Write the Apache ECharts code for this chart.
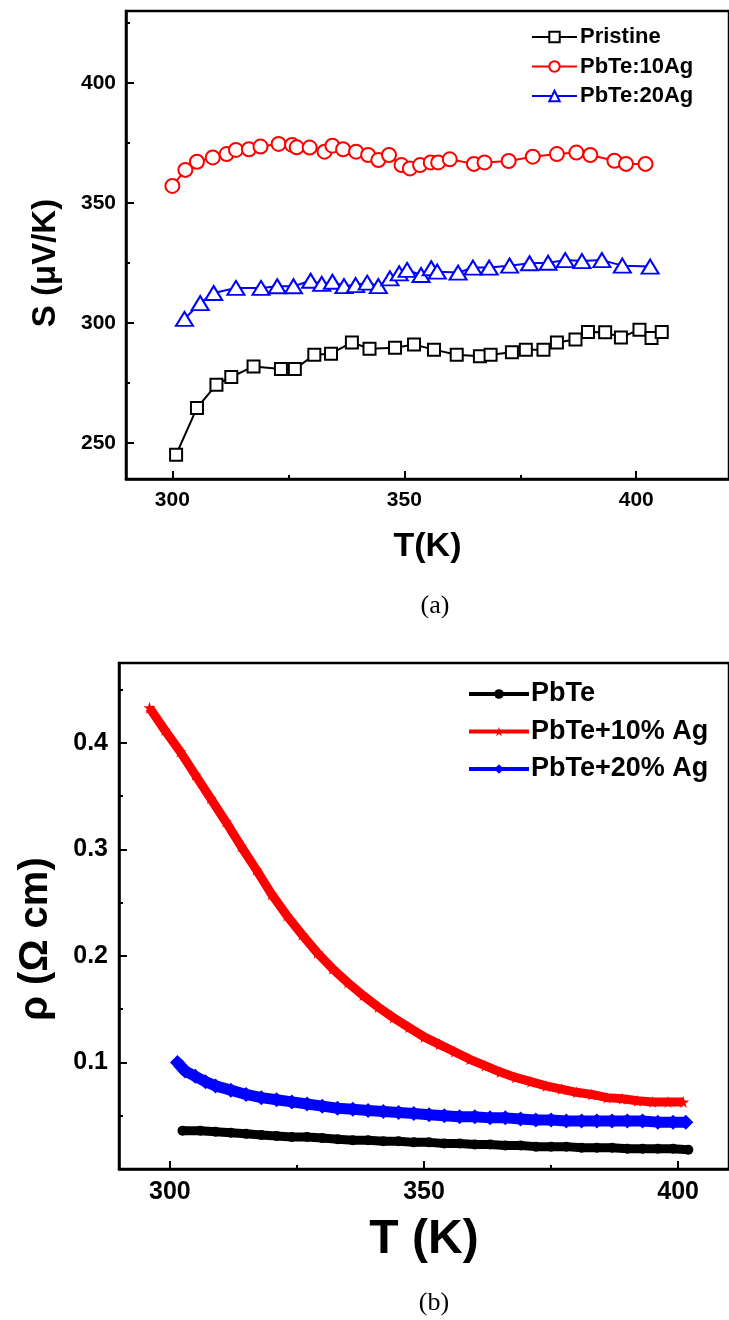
<!DOCTYPE html>
<html>
<head>
    <meta charset="utf-8">
    <title>S and rho vs T</title>
    <script src="https://cdn.jsdelivr.net/npm/echarts@6/dist/echarts.min.js"></script>
    <style>
        body { margin: 0; background: #fff; }
        #main { width: 729px; height: 1320px; }
    </style>
</head>
<body>
    <div id="main"></div>
    <script type="text/javascript">
        // (a) Seebeck coefficient
        var pristineT = [300.8, 305.3, 309.5, 312.7, 317.5, 323.4, 326.4, 330.6, 334.2, 338.7, 342.5, 348.0, 352.1, 356.4, 361.3, 366.3, 368.6, 373.2, 376.2, 380.0, 382.9, 386.9, 389.6, 393.3, 396.7, 400.7, 403.3, 405.5];
        var pristineS = [245.1, 264.6, 274.3, 277.5, 281.9, 280.8, 280.8, 286.8, 287.2, 291.9, 289.3, 289.7, 291.0, 288.9, 286.8, 286.1, 286.8, 287.8, 288.9, 288.9, 291.9, 293.1, 296.3, 296.1, 294.0, 297.2, 293.8, 296.3];
        var ag10T = [300.0, 302.8, 305.3, 308.7, 311.7, 313.7, 316.5, 319.0, 322.9, 325.8, 326.8, 329.6, 332.8, 334.5, 336.8, 339.6, 342.2, 344.4, 346.7, 349.4, 351.2, 353.4, 355.7, 357.3, 359.8, 365.0, 367.3, 372.5, 377.7, 382.9, 387.1, 390.1, 395.3, 397.8, 402.0];
        var ag10S = [357.1, 363.8, 367.2, 369.0, 370.4, 372.1, 372.4, 373.5, 374.6, 374.2, 373.2, 373.1, 371.4, 373.9, 372.4, 371.4, 370.0, 367.9, 370.0, 365.8, 364.4, 365.8, 366.9, 366.9, 368.2, 366.3, 366.9, 367.5, 369.3, 370.4, 371.0, 370.0, 367.6, 366.3, 366.3];
        var ag20T = [302.6, 306.0, 308.9, 313.7, 319.1, 322.6, 326.1, 329.8, 332.2, 334.5, 337.0, 339.5, 342.0, 344.4, 346.9, 348.9, 350.6, 353.6, 355.8, 357.1, 361.6, 364.8, 368.3, 372.7, 377.0, 381.0, 384.7, 388.3, 392.6, 397.0, 403.0];
        var ag20S = [301.7, 308.3, 312.5, 314.6, 314.6, 315.3, 315.3, 317.6, 316.3, 317.2, 315.4, 315.8, 316.8, 315.4, 318.6, 320.7, 322.1, 320.0, 322.8, 321.4, 321.0, 323.1, 323.1, 323.9, 324.9, 325.1, 326.2, 325.8, 326.2, 323.9, 323.5];

        // (b) resistivity
        var pbteT = [302.5, 306, 309, 312, 315, 318, 321, 324, 327, 330, 333, 336, 339, 342, 345, 348, 351, 354, 357, 360, 363, 366, 369, 372, 375, 378, 381, 384, 387, 390, 393, 396, 399, 402];
        var pbteRho = [0.036, 0.036, 0.035, 0.034, 0.033, 0.032, 0.031, 0.030, 0.030, 0.029, 0.028, 0.027, 0.027, 0.026, 0.026, 0.025, 0.025, 0.024, 0.024, 0.023, 0.023, 0.022, 0.022, 0.021, 0.021, 0.021, 0.020, 0.020, 0.020, 0.019, 0.019, 0.019, 0.019, 0.018];
        var pbte10T = [296, 299, 302, 305, 308, 311, 314, 317, 320, 323, 326, 329, 332, 335, 338, 341, 344, 347, 350, 353, 356, 359, 362, 365, 368, 371, 374, 377, 380, 383, 386, 389, 392, 395, 398, 401];
        var pbte10Rho = [0.433, 0.412, 0.392, 0.370, 0.348, 0.326, 0.303, 0.281, 0.258, 0.238, 0.220, 0.203, 0.188, 0.175, 0.163, 0.152, 0.142, 0.133, 0.124, 0.117, 0.110, 0.103, 0.097, 0.091, 0.086, 0.082, 0.078, 0.075, 0.072, 0.070, 0.067, 0.066, 0.064, 0.063, 0.063, 0.063];
        var pbte20T = [301.5, 303, 305, 307, 309, 312, 315, 318, 321, 324, 327, 330, 333, 336, 339, 342, 345, 348, 351, 354, 357, 360, 363, 366, 369, 372, 375, 378, 381, 384, 387, 390, 393, 396, 399, 401.5];
        var pbte20Rho = [0.100, 0.092, 0.087, 0.082, 0.078, 0.074, 0.070, 0.067, 0.065, 0.063, 0.061, 0.059, 0.057, 0.056, 0.055, 0.054, 0.053, 0.052, 0.051, 0.050, 0.049, 0.049, 0.048, 0.048, 0.047, 0.046, 0.046, 0.045, 0.045, 0.045, 0.045, 0.045, 0.045, 0.044, 0.044, 0.044];

        // tick values
        var tTicksMajor = [300, 350, 400];
        var tTicksMinor = [325, 375, 425];
        var sTicksMajor = [250, 300, 350, 400];
        var sTicksMinor = [275, 325, 375, 425];
        var rhoTicksMajor = [0.1, 0.2, 0.3, 0.4];
        var rhoTicksMinor = [0.05, 0.15, 0.25, 0.35, 0.45];

        function pairs(xs, ys) {
            return xs.map(function (x, i) { return [x, ys[i]]; });
        }

        var FONT = '"Liberation Sans", Arial, sans-serif';
        var STAR = 'path://M50,0 L61,35 L98,35 L68,57 L79,91 L50,70 L21,91 L32,57 L2,35 L39,35 Z';

        var myChart = echarts.init(document.getElementById('main'), null, { renderer: 'canvas' });

        function majorAxis(opts) {
            return Object.assign({
                type: 'value',
                axisLine: { show: true, lineStyle: { color: '#000', width: 2.5 } },
                axisTick: { show: true, inside: true, length: 8, lineStyle: { color: '#000', width: 2 } },
                axisLabel: { color: '#000', fontWeight: 'bold', fontFamily: FONT },
                splitLine: { show: false }
            }, opts);
        }
        function minorAxis(opts) {
            return Object.assign({
                type: 'value',
                axisLine: { show: false },
                axisTick: { show: true, inside: true, length: 4, lineStyle: { color: '#000', width: 2 } },
                axisLabel: { show: false },
                splitLine: { show: false }
            }, opts);
        }

        var option = {
            animation: false,
            backgroundColor: '#fff',
            grid: [
                { left: 126, top: 11, width: 610, height: 468, show: true, borderColor: '#000', borderWidth: 2.5 },
                { left: 119, top: 663, width: 618, height: 506, show: true, borderColor: '#000', borderWidth: 2.5 }
            ],
            xAxis: [
                majorAxis({
                    gridIndex: 0, min: 290, max: 420, position: 'bottom',
                    name: 'T(K)', nameLocation: 'middle', nameGap: 51,
                    nameTextStyle: { fontSize: 34, fontWeight: 'bold', fontFamily: FONT, color: '#000' },
                    axisTick: { show: true, inside: true, length: 8, customValues: tTicksMajor, lineStyle: { color: '#000', width: 2 } },
                    axisLabel: { fontSize: 21, margin: 11, customValues: tTicksMajor, color: '#000', fontWeight: 'bold', fontFamily: FONT }
                }),
                minorAxis({ gridIndex: 0, min: 290, max: 420, position: 'bottom',
                    axisTick: { show: true, inside: true, length: 4, customValues: tTicksMinor, lineStyle: { color: '#000', width: 2 } } }),
                majorAxis({
                    gridIndex: 1, min: 290, max: 410, position: 'bottom',
                    name: 'T (K)', nameLocation: 'middle', nameGap: 47,
                    nameTextStyle: { fontSize: 48, fontWeight: 'bold', fontFamily: FONT, color: '#000' },
                    axisTick: { show: true, inside: true, length: 8, customValues: tTicksMajor, lineStyle: { color: '#000', width: 2 } },
                    axisLabel: { fontSize: 25, margin: 11, customValues: tTicksMajor, color: '#000', fontWeight: 'bold', fontFamily: FONT }
                }),
                minorAxis({ gridIndex: 1, min: 290, max: 410, position: 'bottom',
                    axisTick: { show: true, inside: true, length: 4, customValues: tTicksMinor, lineStyle: { color: '#000', width: 2 } } })
            ],
            yAxis: [
                majorAxis({
                    gridIndex: 0, min: 235, max: 430, position: 'left',
                    name: 'S (\u03bcV/K)', nameLocation: 'middle', nameGap: 64,
                    nameTextStyle: { fontSize: 33, fontWeight: 'bold', fontFamily: FONT, color: '#000', padding: [0, 36, 0, 0] },
                    axisTick: { show: true, inside: true, length: 8, customValues: sTicksMajor, lineStyle: { color: '#000', width: 2 } },
                    axisLabel: { fontSize: 21, margin: 10, customValues: sTicksMajor, color: '#000', fontWeight: 'bold', fontFamily: FONT }
                }),
                minorAxis({ gridIndex: 0, min: 235, max: 430, position: 'left',
                    axisTick: { show: true, inside: true, length: 4, customValues: sTicksMinor, lineStyle: { color: '#000', width: 2 } } }),
                majorAxis({
                    gridIndex: 1, min: 0, max: 0.475, position: 'left',
                    name: '\u03c1 (\u03a9 cm)', nameLocation: 'middle', nameGap: 63,
                    nameTextStyle: { fontSize: 40, fontWeight: 'bold', fontFamily: FONT, color: '#000', padding: [0, 46, 0, 0] },
                    axisTick: { show: true, inside: true, length: 8, customValues: rhoTicksMajor, lineStyle: { color: '#000', width: 2 } },
                    axisLabel: { fontSize: 25, margin: 11, customValues: rhoTicksMajor, color: '#000', fontWeight: 'bold', fontFamily: FONT }
                }),
                minorAxis({ gridIndex: 1, min: 0, max: 0.475, position: 'left',
                    axisTick: { show: true, inside: true, length: 4, customValues: rhoTicksMinor, lineStyle: { color: '#000', width: 2 } } })
            ],
            legend: [
                {
                    data: ['Pristine', 'PbTe:10Ag', 'PbTe:20Ag'],
                    orient: 'vertical', left: 526, top: 20,
                    itemWidth: 45, itemHeight: 13, itemGap: 5.5,
                    textStyle: { fontSize: 22, lineHeight: 24, fontWeight: 'bold', fontFamily: FONT, color: '#000', padding: [0, 0, 0, -2] }
                },
                {
                    data: ['PbTe', 'PbTe+10% Ag', 'PbTe+20% Ag'],
                    orient: 'vertical', left: 462, top: 674,
                    itemWidth: 60, itemHeight: 12, itemGap: 7.5,
                    lineStyle: { width: 4 },
                    textStyle: { fontSize: 27, lineHeight: 30, fontWeight: 'bold', fontFamily: FONT, color: '#000', padding: [0, 0, 0, -3] }
                }
            ],
            graphic: [
                { type: 'text', x: 435, y: 606, style: { text: '(a)', font: '26px "Liberation Serif", serif', fill: '#000', align: 'center', verticalAlign: 'middle' } },
                { type: 'text', x: 434, y: 1303, style: { text: '(b)', font: '26px "Liberation Serif", serif', fill: '#000', align: 'center', verticalAlign: 'middle' } }
            ],
            series: [
                {
                    name: 'Pristine', type: 'line', xAxisIndex: 0, yAxisIndex: 0,
                    data: pairs(pristineT, pristineS),
                    symbol: 'rect', symbolSize: 12,
                    lineStyle: { color: '#000', width: 2 },
                    itemStyle: { color: '#fff', borderColor: '#000', borderWidth: 2 }
                },
                {
                    name: 'PbTe:10Ag', type: 'line', xAxisIndex: 0, yAxisIndex: 0,
                    data: pairs(ag10T, ag10S),
                    symbol: 'circle', symbolSize: 14,
                    lineStyle: { color: '#ff0000', width: 2 },
                    itemStyle: { color: '#fff', borderColor: '#ff0000', borderWidth: 2 }
                },
                {
                    name: 'PbTe:20Ag', type: 'line', xAxisIndex: 0, yAxisIndex: 0,
                    data: pairs(ag20T, ag20S),
                    symbol: 'triangle', symbolSize: [17, 14],
                    lineStyle: { color: '#0000ff', width: 2 },
                    itemStyle: { color: '#fff', borderColor: '#0000ff', borderWidth: 2 }
                },
                {
                    name: 'PbTe', type: 'line', xAxisIndex: 2, yAxisIndex: 2,
                    data: pairs(pbteT, pbteRho),
                    symbol: 'circle', symbolSize: 10,
                    lineStyle: { color: '#000', width: 9 },
                    itemStyle: { color: '#000' }
                },
                {
                    name: 'PbTe+10% Ag', type: 'line', xAxisIndex: 2, yAxisIndex: 2,
                    data: pairs(pbte10T, pbte10Rho),
                    symbol: STAR, symbolSize: 12,
                    lineStyle: { color: '#ff0000', width: 9 },
                    itemStyle: { color: '#ff0000' }
                },
                {
                    name: 'PbTe+20% Ag', type: 'line', xAxisIndex: 2, yAxisIndex: 2,
                    data: pairs(pbte20T, pbte20Rho),
                    symbol: 'diamond', symbolSize: 15,
                    lineStyle: { color: '#0000ff', width: 11 },
                    itemStyle: { color: '#0000ff' }
                }
            ]
        };

        myChart.setOption(option);
    </script>
</body>
</html>
